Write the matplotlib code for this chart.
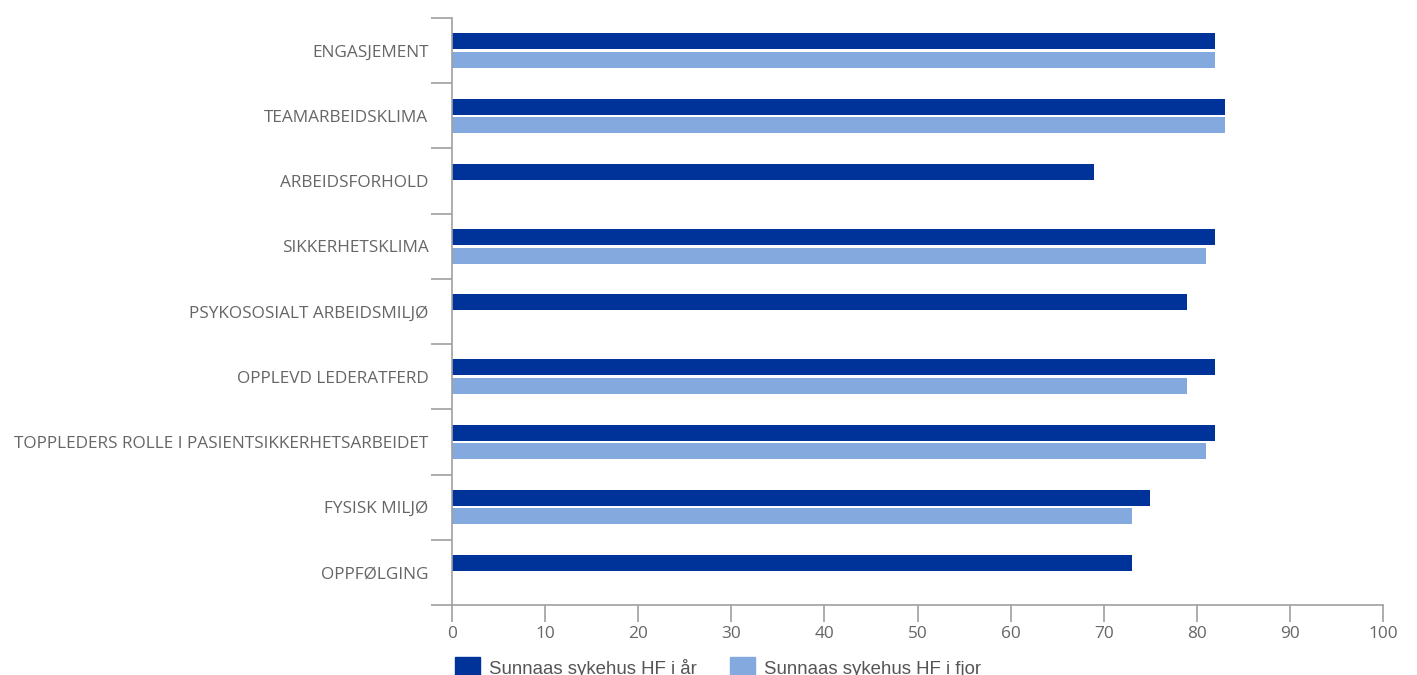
import numpy as np
import matplotlib.pyplot as plt
from matplotlib.patches import Patch

categories = [
    "ENGASJEMENT",
    "TEAMARBEIDSKLIMA",
    "ARBEIDSFORHOLD",
    "SIKKERHETSKLIMA",
    "PSYKOSOSIALT ARBEIDSMILJØ",
    "OPPLEVD LEDERATFERD",
    "TOPPLEDERS ROLLE I PASIENTSIKKERHETSARBEIDET",
    "FYSISK MILJØ",
    "OPPFØLGING",
]
this_year = [82, 83, 69, 82, 79, 82, 82, 75, 73]
last_year = [82, 83, np.nan, 81, np.nan, 79, 81, 73, np.nan]
series_names = ["Sunnaas sykehus HF i år", "Sunnaas sykehus HF i fjor"]

dark = "#00339A"
light = "#84A9DF"
grey_text = "#666666"
axis_col = "#A0A0A0"

fig = plt.figure(figsize=(14.17, 6.75), dpi=100)
ax = fig.add_axes([452 / 1417, 70 / 675, 931 / 1417, 587 / 675])

y = np.arange(len(categories))
h = 0.245
ax.barh(y - 0.142, this_year, height=h, color=dark)
ax.barh(y + 0.142, last_year, height=h, color=light)

ax.set_ylim(len(categories) - 0.5, -0.5)
ax.set_xlim(0, 100)
ax.set_xticks(np.arange(0, 101, 10))

# category separators as ticks, labels centred between them
ax.set_yticks(np.arange(-0.5, len(categories), 1.0))
ax.set_yticklabels([])
ax.set_yticks(y, minor=True)
ax.set_yticklabels(categories, minor=True)
ax.tick_params(axis="y", which="minor", length=0, pad=17, labelsize=12.4, labelcolor=grey_text)
ax.tick_params(axis="y", which="major", length=15, width=1.2, color=axis_col)
ax.tick_params(axis="x", length=12, width=1.2, color=axis_col, labelsize=12.4,
               labelcolor=grey_text, pad=3)

for s in ["top", "right"]:
    ax.spines[s].set_visible(False)
for s in ["left", "bottom"]:
    ax.spines[s].set_color(axis_col)
    ax.spines[s].set_linewidth(1.2)

for lab in ax.get_yticklabels(minor=True) + ax.get_xticklabels():
    lab.set_family("Open Sans")

handles = [Patch(color=dark), Patch(color=light)]
fig.legend(handles, series_names, loc="upper left", bbox_to_anchor=(455 / 1417, 1 - 657 / 675),
           ncol=2, frameon=False, prop={"family": "Liberation Sans", "size": 13.4},
           labelcolor="#555555", handlelength=1.34, handleheight=1.34, handletextpad=0.48,
           columnspacing=1.8, borderpad=0, borderaxespad=0)

fig.savefig("out.png", dpi=100)
